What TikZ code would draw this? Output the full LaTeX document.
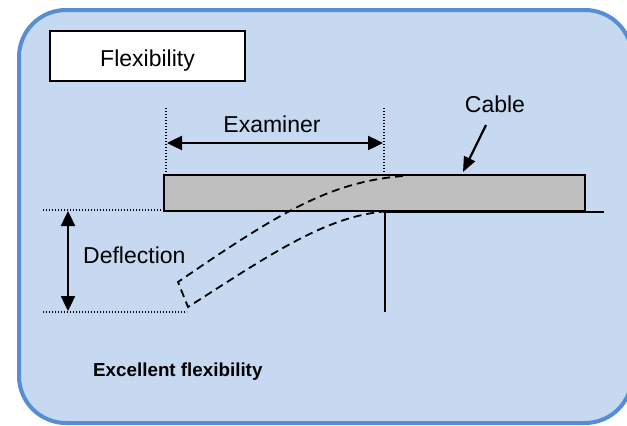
\documentclass[tikz,border=0pt]{standalone}
\usepackage{fontspec}
\setmainfont{Liberation Sans}
\usetikzlibrary{arrows.meta}
\definecolor{panelfill}{RGB}{198,217,241}
\definecolor{paneledge}{RGB}{85,142,213}
\definecolor{cablegray}{RGB}{191,191,191}
\begin{document}
\begin{tikzpicture}[x=1pt,y=-1pt]

    \tikzset{
      txt/.style={
        inner sep=0pt,
        font=\fontsize{23}{26}\selectfont,
      },
      guide/.style={
        line width=1.3pt,
        dash pattern=on 1.2pt off 1.8pt,
      },
      measure/.style={
        line width=2.4pt,
        {Triangle[length=15pt,width=14pt]}-{Triangle[length=15pt,width=14pt]},
      },
      bent/.style={
        line width=1.8pt,
        dash pattern=on 8pt off 5pt,
      },
    }
    \useasboundingbox (0,0) rectangle (627,426);
    \clip (0,0) rectangle (627,426);
    \draw[line width=4pt, draw=paneledge, fill=panelfill, rounded corners=47pt] (19,10) rectangle (632,423);
	\node[draw, fill=white, line width=1.3pt, minimum width=195pt, minimum height=50pt] (titlebox) at (147.5,56) {};
	\node[txt, anchor=base] (title) at ([yshift=-10pt]titlebox.center) {Flexibility};
	% points of the cable and the support
	\coordinate (cableNW) at (164,175);
	\coordinate (cableSE) at (585,211);
	\coordinate (edgeTop) at (385,212);
	\coordinate (edgeBot) at (385,312);
	\coordinate (tableEnd) at (604,212);
	\draw[line width=1.4pt] (edgeTop)--(tableEnd);
	\draw[line width=2pt] (edgeTop)--(edgeBot);
	\draw[line width=2.6pt, fill=cablegray] (cableNW) rectangle (cableSE);
	% bent cable
	\coordinate (bendA) at (403,176);
	\coordinate (bendB) at (178,282);
	\coordinate (bendC) at (188,307);
	\coordinate (bendD) at (395,211);
	\draw[bent] (bendA) .. controls (330,182) and (280,212) .. (bendB)--(bendC) .. controls (270,255) and (330,212) .. (bendD);
	% examiner span
	\coordinate (spanL) at (166,108);
	\coordinate (spanR) at (384,108);
	\draw[guide] (spanL)--(spanL|-cableNW);
	\draw[guide] (spanR)--(spanR|-cableNW);
	\node[txt, anchor=base] (examiner) at (272,132) {Examiner};
	\coordinate (spanA) at (167,143);
	\coordinate (spanB) at (383,143);
	\draw[measure] (spanA)--(spanB);
	% deflection
	\coordinate (defTop) at (43,210);
	\coordinate (defBot) at (43,312);
	\draw[guide] (defTop)--(164,210);
	\draw[guide] (defBot)--(187,312);
	\coordinate (defA) at (68,211);
	\coordinate (defB) at (68,311);
	\draw[measure] (defA)--(defB);
	\node[txt, anchor=base west] (deflection) at (83,263) {Deflection};
	% cable label
	\node[txt, anchor=base] (cablelabel) at (495,112) {Cable};
	\coordinate (cableTip) at (463,172);
	\draw[line width=2.2pt, -{Triangle[length=15pt,width=12pt]}] (486,125)--(cableTip);
	\node[txt, anchor=base west, font=\fontsize{18.8}{22}\selectfont\bfseries] (summary) at (93,376) {Excellent flexibility};

\end{tikzpicture}
\end{document}
